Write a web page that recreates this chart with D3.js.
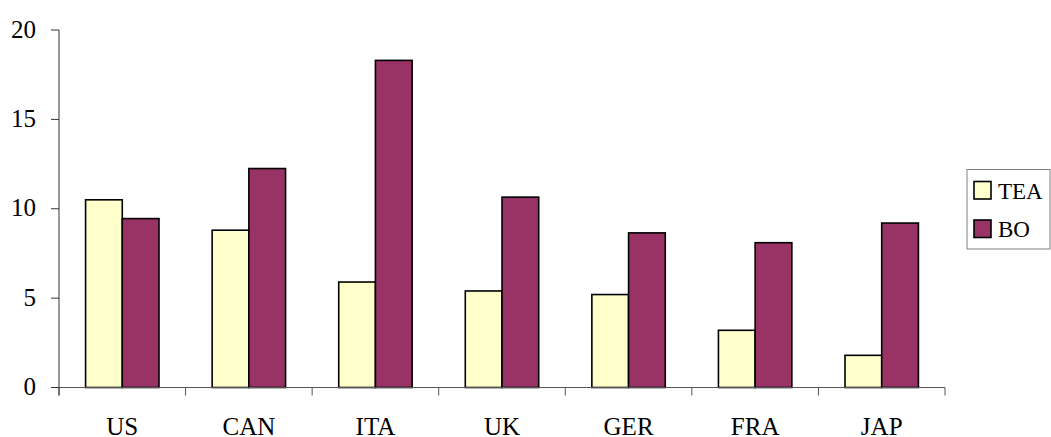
<!DOCTYPE html>
<html>
<head>
<meta charset="utf-8">
<script src="https://cdn.jsdelivr.net/npm/d3@7/dist/d3.min.js"></script>
<style>
    body { margin: 0; background: #fff; }
    text { font-family: "Liberation Serif", "Times New Roman", serif; fill: #000; }
</style>
</head>
<body>
<div id="chart"></div>
<script>
// Chart data
const countries = ["US", "CAN", "ITA", "UK", "GER", "FRA", "JAP"];
const teaValues = [10.5, 8.8, 5.9, 5.4, 5.2, 3.2, 1.8];
const boValues = [9.45, 12.25, 18.3, 10.65, 8.65, 8.1, 9.2];
const seriesNames = ["TEA", "BO"];
const yTicks = [0, 5, 10, 15, 20];

const W = 1051, H = 437;
const margin = { top: 30, left: 59 };
const width = 945 - margin.left;
const height = 387.5 - margin.top;

const svg = d3.select("#chart").append("svg")
    .attr("width", W)
    .attr("height", H);

const g = svg.append("g")
    .attr("transform", `translate(${margin.left},${margin.top})`);

// --- Scales ---
const x0 = d3.scaleBand()
    .domain(countries)
    .range([0, width])
    .paddingInner(0.42)
    .paddingOuter(0.21);

const x1 = d3.scaleBand()
    .domain(seriesNames)
    .range([0, x0.bandwidth()]);

const y = d3.scaleLinear()
    .domain([0, 20])
    .range([height, 0]);

const color = d3.scaleOrdinal()
    .domain(seriesNames)
    .range(["#ffffcc", "#993366"]);

// --- Bars ---
const rows = countries.map((c, i) => ({ name: c, values: [
    { series: "TEA", value: teaValues[i] },
    { series: "BO", value: boValues[i] }
] }));

const groups = g.selectAll(".country")
    .data(rows)
    .enter().append("g")
    .attr("class", "country")
    .attr("transform", d => `translate(${x0(d.name)},0)`);

groups.selectAll("rect")
    .data(d => d.values)
    .enter().append("rect")
    .attr("x", d => x1(d.series))
    .attr("y", d => y(d.value))
    .attr("width", x1.bandwidth())
    .attr("height", d => y(0) - y(d.value))
    .attr("fill", d => color(d.series))
    .attr("stroke", "#000")
    .attr("stroke-width", 1.6);

// --- Axes ---
// category ticks sit on band boundaries, labels centred in each band
const step = x0.step();
const xAxis = g.append("g").attr("transform", `translate(0,${height})`);
xAxis.append("line")
    .attr("x1", 0).attr("x2", width)
    .attr("stroke", "#555").attr("stroke-width", 1);
xAxis.selectAll(".xtick")
    .data(d3.range(countries.length + 1))
    .enter().append("line")
    .attr("x1", i => i * step).attr("x2", i => i * step)
    .attr("y1", 0).attr("y2", 8)
    .attr("stroke", "#555");
xAxis.selectAll(".xlabel")
    .data(countries)
    .enter().append("text")
    .attr("x", d => x0(d) + x0.bandwidth() / 2)
    .attr("y", 47)
    .attr("text-anchor", "middle")
    .style("font-size", "25px")
    .text(d => d);

const yAxis = g.append("g");
yAxis.append("line")
    .attr("y1", 0).attr("y2", height + 8)
    .attr("stroke", "#333");
yAxis.selectAll(".ytick")
    .data(yTicks)
    .enter().append("line")
    .attr("x1", -8).attr("x2", 0)
    .attr("y1", d => y(d)).attr("y2", d => y(d))
    .attr("stroke", "#333");
yAxis.selectAll(".ylabel")
    .data(yTicks)
    .enter().append("text")
    .attr("x", -23)
    .attr("y", d => y(d))
    .attr("dy", "0.3em")
    .attr("text-anchor", "end")
    .style("font-size", "25px")
    .text(d => d);

// --- Legend ---
const legend = svg.append("g").attr("transform", "translate(967,169.5)");
legend.append("rect")
    .attr("width", 83).attr("height", 79.5)
    .attr("fill", "#fff")
    .attr("stroke", "#808080");
const items = legend.selectAll(".item")
    .data(seriesNames)
    .enter().append("g")
    .attr("transform", (d, i) => `translate(7,${12 + i * 38.5})`);
items.append("rect")
    .attr("width", 17).attr("height", 17.5)
    .attr("fill", d => color(d))
    .attr("stroke", "#000")
    .attr("stroke-width", 1.6);
items.append("text")
    .attr("x", 24)
    .attr("y", 17)
    .style("font-size", "23px")
    .text(d => d);
</script>
</body>
</html>
